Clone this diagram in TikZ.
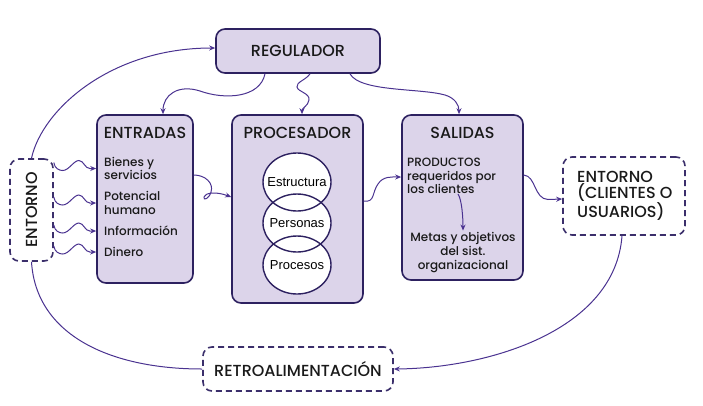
\documentclass[tikz,border=0pt]{standalone}
\usepackage{fontspec}
\setmainfont{Poppins Medium}
\newfontfamily\arialf{Liberation Sans}
\usetikzlibrary{arrows.meta,shapes.geometric,calc}
\definecolor{boxfill}{HTML}{DCD4EA}
\definecolor{boxline}{HTML}{2D2160}
\definecolor{arr}{HTML}{4A3290}
\definecolor{dashc}{HTML}{3B2F6B}
\definecolor{txt}{HTML}{1A1A1A}
\begin{document}
\begin{tikzpicture}[x=1pt,y=-1pt,
  mainbox/.style={draw=boxline, fill=boxfill, line width=1.6pt, rounded corners=9pt},
  dbox/.style={draw=dashc, line width=1.6pt, dash pattern=on 6pt off 4pt, rounded corners=9pt},
  ttl/.style={font=\fontsize{16}{18}\selectfont, text=txt, inner sep=0pt},
  itm/.style={font=\fontsize{12}{13.5}\selectfont, align=left, text=txt, anchor=west, inner sep=0pt},
  conn/.style={draw=arr, line width=1pt},
  tip/.style={-{Stealth[length=6pt,width=5pt]}},
  circ/.style={ellipse, minimum width=68pt, minimum height=58pt, inner sep=0pt},
  ctext/.style={font=\arialf\fontsize{13}{15}\selectfont, text=black, inner sep=0pt}
]
\useasboundingbox (0,0) rectangle (703,405);

% boxes
\node[mainbox, minimum width=164pt, minimum height=44pt] (reg) at (298,51) {};
\node[ttl] (regT) at (reg.center) {REGULADOR};
\node[mainbox, minimum width=96pt, minimum height=168pt] (entradas) at (145,199) {};
\node[mainbox, minimum width=131pt, minimum height=188pt] (proc) at (297.5,209) {};
\node[mainbox, minimum width=121pt, minimum height=165pt] (salidas) at (462.5,197.5) {};
\node[dbox, minimum width=43pt, minimum height=102pt] (entL) at (31.5,210) {};
\node[dbox, minimum width=122pt, minimum height=78pt] (entR) at (624,196) {};
\node[dbox, minimum width=190pt, minimum height=44pt] (retro) at (298,369) {};

% titles
\node[ttl] (entT) at (145,133) {ENTRADAS};
\node[ttl] (procT) at (297.5,133) {PROCESADOR};
\node[ttl] (salT) at (462.5,133) {SALIDAS};
\node[ttl, rotate=90] (entLt) at (entL.center) {ENTORNO};
\node[ttl] (retroT) at (retro.center) {RETROALIMENTACIÓN};
\node[itm, font=\fontsize{16}{15.5}\selectfont] (entRt) at (577,196) {ENTORNO\\(CLIENTES O\\USUARIOS)};

% entradas items
\node[itm] (i1) at (104,168.5) {Bienes y\\servicios};
\node[itm] (i2) at (104,203) {Potencial\\humano};
\node[itm] (i3) at (104,231) {Información};
\node[itm] (i4) at (104,252) {Dinero};

% salidas items
\node[itm] (s1) at (407,176) {PRODUCTOS\\requeridos por\\los clientes};
\node[font=\fontsize{12}{14}\selectfont, align=center, inner sep=0pt, text=txt] (s2) at (463,253) {Metas y objetivos\\del sist.\\organizacional};

% circles
\node[circ, fill=white] (c1) at (297,182) {};
\node[circ, fill=white] (c2) at (297,223) {};
\node[circ, fill=white] (c3) at (297,265) {};
\foreach \c in {c1,c2,c3}
  \draw[boxline, line width=1.4pt] (\c.center) ellipse [x radius=34pt, y radius=29pt];
\node[ctext] (c1t) at (c1.center) {Estructura};
\node[ctext] (c2t) at (c2.center) {Personas};
\node[ctext] (c3t) at (c3.center) {Procesos};

% squiggles entorno -> entradas
\foreach \n in {i1,i2,i3,i4}
  \draw[conn,tip,shift={(entL.east |- \n.west)}] (0,-6) .. controls (1,0) and (5,2) .. (9,2)
    .. controls (15,2) and (20,-8) .. (25,-8) .. controls (30,-8) and (31,0) .. (36,0)
    -- (entradas.west |- \n.west);

% entorno -> regulador
\draw[conn,tip] (entL.north) .. controls (42,110) and (110,48) .. ([yshift=3pt]reg.west);
% regulador -> entradas
\draw[conn,tip] ([xshift=-33pt]reg.south) .. controls (260,98) and (225,100) .. (200,91)
  .. controls (178,84) and (163,95) .. ([xshift=18pt]entradas.north);
% regulador -> procesador
\draw[conn,tip] ([xshift=12pt]reg.south) .. controls (306,80) and (296,82) .. (297,87)
  .. controls (298,92) and (310,93) .. (309,100) .. controls (308,106) and (302,108) .. ([xshift=4.5pt]proc.north);
% regulador -> salidas
\draw[conn,tip] ([xshift=52pt]reg.south) .. controls (360,92) and (420,88) .. (445,95)
  .. controls (455,98) and (459,105) .. ([xshift=-3.5pt]salidas.north);
% entradas -> procesador (loop)
\draw[conn,tip] ([yshift=24pt]entradas.east) .. controls (205,175) and (214,183) .. (211,192)
  .. controls (209,199) and (203,201) .. (204,197) .. controls (205,193) and (215,191) .. ([yshift=12pt]proc.west);
% procesador -> salidas
\draw[conn,tip] ([yshift=8pt]proc.east) .. controls (375,203) and (372,192) .. (378,184)
  .. controls (383,176) and (392,177) .. ([yshift=20.5pt]salidas.west);
% salidas -> entorno
\draw[conn,tip] ([yshift=22.5pt]salidas.east) .. controls (536,176) and (534,199) .. (548,199.5)
  -- ([yshift=-3pt]entR.west);
% productos -> metas
\coordinate (s1b) at ($(s1.south -| s2.north)+(-5,0)$);
\draw[conn,tip] (s1b) .. controls +(4,6) and +(0,-12) .. ([yshift=2pt]s2.north);
% entorno -> retro
\draw[conn] (entL.south) .. controls (36,335) and (110,369) .. (retro.west);
% entorno clientes -> retro
\draw[conn,tip] ([xshift=-2pt]entR.south) .. controls (615,330) and (490,368) .. (retro.east);
\end{tikzpicture}
\end{document}
